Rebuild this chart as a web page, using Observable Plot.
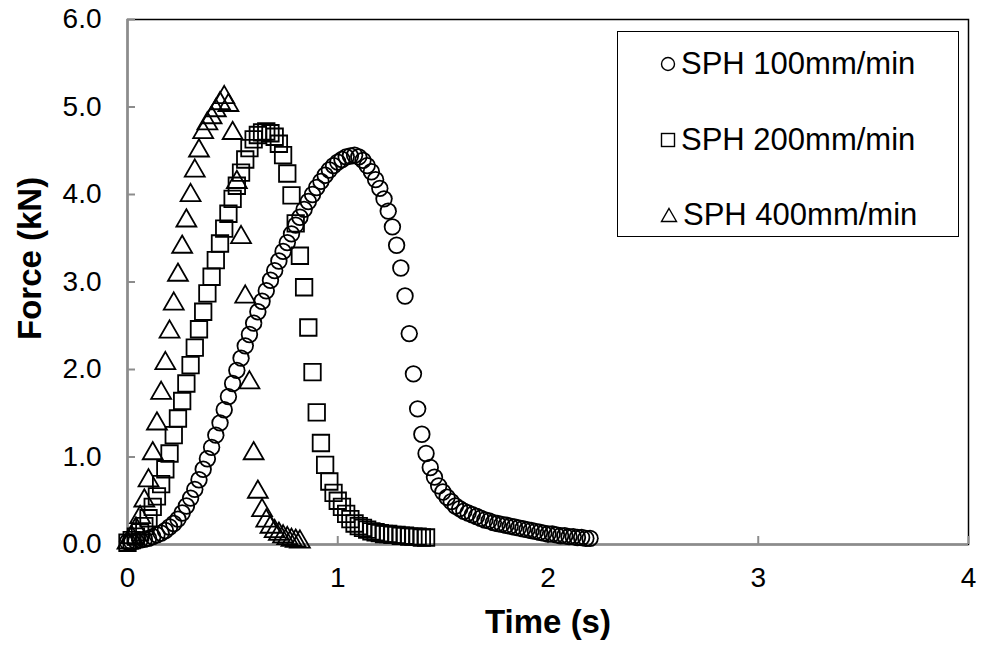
<!DOCTYPE html>
<html><head><meta charset="utf-8">
<script src="https://cdn.jsdelivr.net/npm/d3@7"></script>
<script src="https://cdn.jsdelivr.net/npm/@observablehq/plot@0.6"></script>
<style>
body{margin:0;background:#fff;}
#wrap{position:relative;width:983px;height:651px;font-family:"Liberation Sans",Arial,sans-serif;}
#legend{position:absolute;left:617px;top:31px;width:342px;height:206px;border:1.5px solid #000;box-sizing:border-box;background:#fff;}
.row{position:absolute;left:42px;height:34px;display:flex;align-items:center;font-size:31px;color:#000;white-space:nowrap;}
.row svg{margin-right:5px;}
</style></head>
<body><div id="wrap"></div>
<script>
// Series 1: SPH 100mm/min (circles)
const time100 = [0.00,0.02,0.04,0.06,0.08,0.10,0.12,0.14,0.16,0.18,0.20,0.22,0.24,0.26,0.28,0.30,0.32,0.34,0.36,0.38,0.40,0.42,0.44,0.46,0.48,0.50,0.52,0.54,0.56,0.58,0.60,0.62,0.64,0.66,0.68,0.70,0.72,0.74,0.76,0.78,0.80,0.82,0.84,0.86,0.88,0.90,0.92,0.94,0.96,0.98,1.00,1.02,1.04,1.06,1.08,1.10,1.12,1.14,1.16,1.18,1.20,1.22,1.24,1.26,1.28,1.30,1.32,1.34,1.36,1.38,1.40,1.42,1.44,1.46,1.48,1.50,1.52,1.54,1.56,1.58,1.60,1.62,1.64,1.66,1.68,1.70,1.72,1.74,1.76,1.78,1.80,1.82,1.84,1.86,1.88,1.90,1.92,1.94,1.96,1.98,2.00,2.02,2.04,2.06,2.08,2.10,2.12,2.14,2.16,2.18,2.20];
const force100 = [0.03,0.03,0.04,0.05,0.06,0.07,0.09,0.11,0.13,0.16,0.20,0.24,0.29,0.36,0.44,0.53,0.63,0.74,0.86,0.98,1.11,1.25,1.39,1.54,1.69,1.84,1.99,2.13,2.27,2.40,2.53,2.66,2.78,2.90,3.02,3.13,3.24,3.35,3.45,3.55,3.65,3.74,3.83,3.92,4.00,4.08,4.15,4.22,4.28,4.33,4.37,4.40,4.43,4.44,4.45,4.43,4.39,4.33,4.26,4.17,4.07,3.95,3.81,3.63,3.42,3.16,2.84,2.41,1.95,1.55,1.26,1.04,0.88,0.77,0.67,0.60,0.54,0.49,0.44,0.41,0.38,0.36,0.34,0.32,0.30,0.28,0.27,0.25,0.24,0.23,0.22,0.21,0.20,0.19,0.18,0.17,0.16,0.15,0.14,0.13,0.12,0.12,0.11,0.10,0.10,0.09,0.09,0.08,0.08,0.07,0.07];

// Series 2: SPH 200mm/min (squares)
const time200 = [0.00,0.02,0.04,0.06,0.08,0.10,0.12,0.14,0.16,0.18,0.20,0.22,0.24,0.26,0.28,0.30,0.32,0.34,0.36,0.38,0.40,0.42,0.44,0.46,0.48,0.50,0.52,0.54,0.56,0.58,0.60,0.62,0.64,0.66,0.68,0.70,0.72,0.74,0.76,0.78,0.80,0.82,0.84,0.86,0.88,0.90,0.92,0.94,0.96,0.98,1.00,1.02,1.04,1.06,1.08,1.10,1.12,1.14,1.16,1.18,1.20,1.22,1.24,1.26,1.28,1.30,1.32,1.34,1.36,1.38,1.40,1.42];
const force200 = [0.02,0.05,0.09,0.14,0.21,0.30,0.43,0.55,0.69,0.86,1.04,1.25,1.44,1.64,1.84,2.05,2.25,2.46,2.66,2.87,3.06,3.25,3.44,3.61,3.78,3.95,4.10,4.25,4.40,4.53,4.63,4.68,4.71,4.72,4.70,4.66,4.58,4.45,4.24,3.99,3.67,3.30,2.94,2.48,1.97,1.51,1.16,0.91,0.72,0.59,0.50,0.43,0.35,0.29,0.24,0.21,0.19,0.17,0.15,0.14,0.13,0.12,0.12,0.11,0.11,0.10,0.10,0.09,0.09,0.09,0.08,0.08];

// Series 3: SPH 400mm/min (triangles)
const time400 = [0.00,0.02,0.04,0.06,0.08,0.10,0.12,0.14,0.16,0.18,0.20,0.22,0.24,0.26,0.28,0.30,0.32,0.34,0.36,0.38,0.40,0.42,0.44,0.46,0.48,0.50,0.52,0.54,0.56,0.58,0.60,0.62,0.64,0.66,0.68,0.70,0.72,0.74,0.76,0.78,0.80,0.82];
const force400 = [0.02,0.08,0.18,0.31,0.50,0.73,1.04,1.38,1.73,2.07,2.43,2.75,3.08,3.40,3.70,3.99,4.27,4.50,4.71,4.81,4.88,4.96,5.04,5.11,5.02,4.70,4.14,3.51,2.83,1.85,1.04,0.60,0.39,0.27,0.20,0.15,0.12,0.09,0.07,0.05,0.04,0.03];

const seriesNames = ["SPH 100mm/min", "SPH 200mm/min", "SPH 400mm/min"];
const seriesSymbols = ["circle", "square", "triangle"];
const xTicks = [0, 1, 2, 3, 4];
const yTicks = [0, 1, 2, 3, 4, 5, 6];
const xLabel = "Time (s)";
const yLabel = "Force (kN)";

const toRows = (ts, fs) => ts.map((t, i) => ({t, f: fs[i]}));
const d100 = toRows(time100, force100);
const d200 = toRows(time200, force200);
const d400 = toRows(time400, force400);

const markStyle = {fill: "none", stroke: "#000", strokeWidth: 1.8};

const chart = Plot.plot({
  width: 983, height: 651,
  marginLeft: 127, marginRight: 15, marginTop: 19, marginBottom: 107,
  style: {fontFamily: "'Liberation Sans', Arial, sans-serif", fontSize: "28px", color: "#000", background: "#fff", overflow: "visible"},
  x: {domain: [0, 4]},
  y: {domain: [0, 6]},
  marks: [
    Plot.frame({stroke: "#000", strokeWidth: 1.5}),
    Plot.ruleX([0], {stroke: "#8c8c8c", strokeWidth: 2.5}),
    Plot.ruleY([0], {stroke: "#8c8c8c", strokeWidth: 2.5}),
    Plot.axisX({ticks: xTicks, tickSize: -8, tickPadding: 31, stroke: "#8c8c8c", strokeWidth: 2, tickFormat: d => String(d), label: null, fontSize: 28, fill: "#000"}),
    Plot.axisY({ticks: yTicks, tickSize: -8, tickPadding: 34, stroke: "#8c8c8c", strokeWidth: 2, tickFormat: d3.format(".1f"), label: null, fontSize: 28, fill: "#000"}),
    Plot.text([xLabel], {frameAnchor: "bottom", dy: 88, fontWeight: "bold", fontSize: 33, fill: "#000"}),
    Plot.text([yLabel], {frameAnchor: "left", rotate: -90, dx: -97, dy: 58, fontWeight: "bold", fontSize: 33, fill: "#000"}),
    Plot.dot(d100, {x: "t", y: "f", symbol: () => seriesSymbols[0], r: 7.8, ...markStyle}),
    Plot.dot(d200, {x: "t", y: "f", symbol: () => seriesSymbols[1], r: 9.3, ...markStyle}),
    Plot.dot(d400, {x: "t", y: "f", symbol: () => seriesSymbols[2], r: 7.4, ...markStyle})
  ]
});

const wrap = document.getElementById("wrap");
wrap.appendChild(chart);

// Legend (inside plot area, top right)
const legend = document.createElement("div");
legend.id = "legend";
const symSvg = [
  '<svg width="16" height="16" viewBox="0 0 16 16"><circle cx="8" cy="8" r="6.5" fill="none" stroke="#000" stroke-width="1.4"/></svg>',
  '<svg width="16" height="16" viewBox="0 0 16 16"><rect x="1.5" y="1.5" width="13" height="13" fill="none" stroke="#000" stroke-width="1.4"/></svg>',
  '<svg width="18" height="16" viewBox="0 0 18 16"><path d="M9,1.5 L16.5,14.5 L1.5,14.5 Z" fill="none" stroke="#000" stroke-width="1.4"/></svg>'
];
const rowTops = [15, 91, 166];
seriesNames.forEach((name, i) => {
  const row = document.createElement("div");
  row.className = "row";
  row.style.top = rowTops[i] + "px";
  row.innerHTML = symSvg[i] + "<span>" + name + "</span>";
  legend.appendChild(row);
});
wrap.appendChild(legend);
</script>
</body></html>
